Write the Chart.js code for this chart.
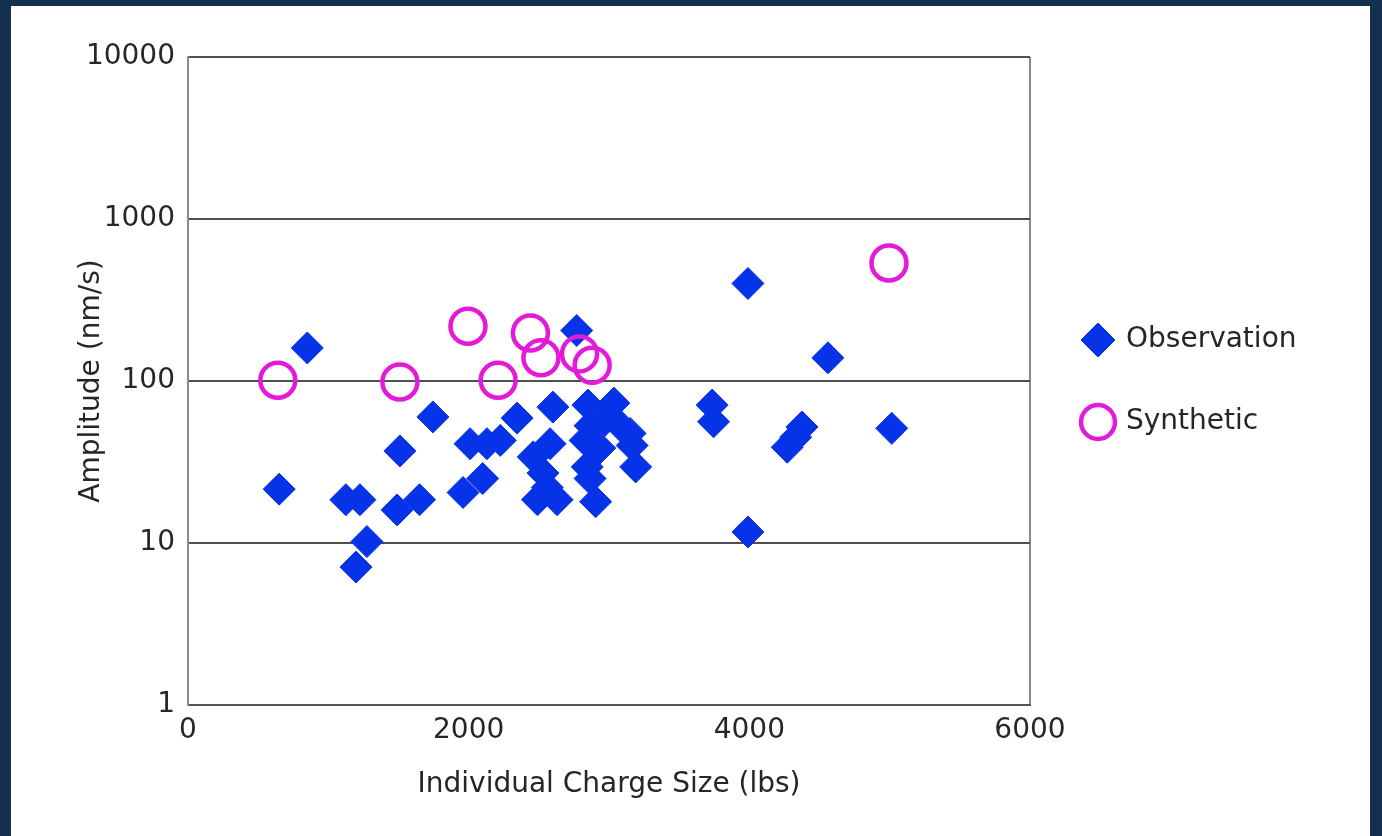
<!DOCTYPE html>
<html>
<head>
<meta charset="utf-8">
<script src="https://cdn.jsdelivr.net/npm/chart.js@4.4.1/dist/chart.umd.min.js"></script>
<style>
  html, body { margin: 0; padding: 0; width: 1382px; height: 836px; overflow: hidden; background: #14304f; }
  #panel { position: absolute; left: 11px; top: 6px; width: 1359px; height: 830px; background: #ffffff; }
  canvas { display: block; }
</style>
</head>
<body>
<div id="panel"><canvas id="c" width="1359" height="830"></canvas></div>
<script>
// Observed peak amplitudes against individual charge size
const obsX = [650, 850, 1125, 1225, 1275, 1197, 1490, 1650, 1510, 1745,
              2010, 2130, 2225, 1960, 2100, 2345, 2600, 2460, 2580, 2490,
              2560, 2630, 2530, 2770, 2850, 2865, 2830, 2935, 3035, 3080,
              3150, 3165, 3190, 2845, 2865, 2905, 2970, 3735, 3745, 3990,
              3990, 4270, 4330, 4375, 4560, 5015];
const obsY = [21.5, 160, 18.5, 18.5, 10.2, 7.1, 16, 18.5, 37, 60,
              41, 41, 43, 20.5, 25, 59, 69, 34, 41, 18.5,
              22, 18.5, 27, 205, 71, 53, 43, 38.5, 73, 53,
              47.5, 40, 29.5, 29.5, 25, 18, 57, 71, 56, 400,
              11.7, 39, 45, 52, 139, 51];

// Synthetic (modelled) amplitudes
const synX = [640, 1510, 1995, 2210, 2440, 2515, 2790, 2880, 4995];
const synY = [101, 98.5, 218, 101, 198, 139, 147, 125, 535];

// Axis ticks
const xTicks = [0, 2000, 4000, 6000];
const xTickLabels = ['0', '2000', '4000', '6000'];
const yTicks = [1, 10, 100, 1000, 10000];
const yTickLabels = ['1', '10', '100', '1000', '10000'];

const FONT = { family: '"DejaVu Sans", Arial, sans-serif', size: 28 };
const TEXT = '#262626';

const toPoints = (xs, ys) => xs.map((x, i) => ({ x: x, y: ys[i] }));

const chart = new Chart(document.getElementById('c').getContext('2d'), {
  type: 'scatter',
  data: {
    datasets: [
      {
        label: 'Observation',
        data: toPoints(obsX, obsY),
        pointStyle: 'rectRot',
        pointRadius: 16,
        pointHoverRadius: 16,
        backgroundColor: '#0633e8',
        borderColor: '#0633e8',
        borderWidth: 1,
        order: 1
      },
      {
        label: 'Synthetic',
        data: toPoints(synX, synY),
        pointStyle: 'circle',
        pointRadius: 17.5,
        pointHoverRadius: 17.5,
        backgroundColor: 'rgba(255,255,255,0)',
        borderColor: '#e31ad8',
        borderWidth: 4.5,
        order: 0
      }
    ]
  },
  options: {
    responsive: false,
    animation: false,
    events: [],
    layout: { padding: { top: 51, left: 0, right: 40, bottom: 0 } },
    plugins: {
      tooltip: { enabled: false },
      legend: {
        position: 'right',
        fullSize: false,
        labels: {
          usePointStyle: true,
          boxHeight: 24,
          padding: 54,
          color: TEXT,
          font: FONT,
          sort: (a, b) => a.datasetIndex - b.datasetIndex
        }
      }
    },
    scales: {
      x: {
        type: 'linear',
        min: xTicks[0],
        max: xTicks[xTicks.length - 1],
        afterBuildTicks: s => { s.ticks = xTicks.map(v => ({ value: v })); },
        afterFit: s => { s.height = 131; },
        ticks: {
          padding: 9,
          color: TEXT,
          font: FONT,
          callback: v => xTickLabels[xTicks.indexOf(v)]
        },
        grid: {
          drawTicks: false,
          lineWidth: 2,
          color: c => (c.tick && c.tick.value === 6000) ? '#8a8a8a' : 'rgba(0,0,0,0)'
        },
        border: { color: '#555555', width: 2 },
        title: {
          display: true,
          text: 'Individual Charge Size (lbs)',
          color: TEXT,
          font: FONT,
          padding: { top: 0, bottom: 34 }
        }
      },
      y: {
        type: 'logarithmic',
        min: yTicks[0],
        max: yTicks[yTicks.length - 1],
        afterBuildTicks: s => { s.ticks = yTicks.map(v => ({ value: v })); },
        afterFit: s => { s.width = 177; },
        ticks: {
          padding: 13,
          color: TEXT,
          font: FONT,
          callback: v => yTickLabels[yTicks.indexOf(v)]
        },
        grid: { drawTicks: false, lineWidth: 2, color: '#505050' },
        border: { color: '#8a8a8a', width: 2 },
        title: {
          display: true,
          text: 'Amplitude (nm/s)',
          color: TEXT,
          font: FONT,
          padding: { top: 64, bottom: 0 }
        }
      }
    }
  }
});

// Keep the plot's right edge at a fixed position regardless of legend width
const dx = chart.chartArea.right - 1019;
if (Math.abs(dx) > 0.5) {
  chart.options.layout.padding.right += dx;
  chart.update('none');
}
</script>
</body>
</html>
